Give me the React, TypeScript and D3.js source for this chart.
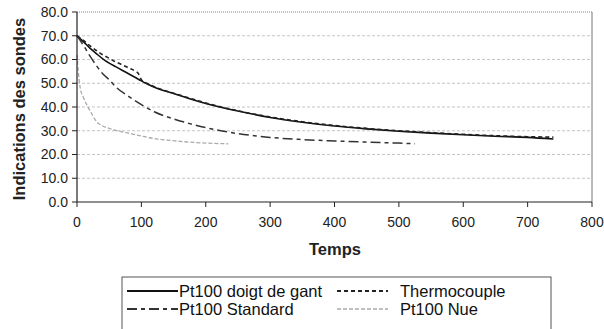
import * as d3 from 'd3';

// temps (s) and readings per probe
const gantT = [0, 10, 20, 30, 40, 50, 60, 70, 80, 90, 100, 110, 125, 150, 175, 200, 250, 300, 350, 400, 450, 500, 550, 600, 650, 700, 740];
const gantV = [70, 67.5, 64.8, 62.5, 60.3, 58.5, 57, 55.5, 54, 52.5, 51, 49.6, 47.8, 45.7, 43.5, 41.5, 38.3, 35.6, 33.6, 32, 30.8, 29.8, 29, 28.3, 27.7, 27.2, 26.5];

const thermoT = [0, 10, 20, 30, 40, 50, 60, 70, 80, 90, 95, 100, 110, 125, 150, 175, 200, 250, 300, 350, 400, 450, 500, 550, 600, 650, 700, 740];
const thermoV = [70, 68, 65.8, 63.8, 62, 60.5, 59, 57.8, 56.5, 55.2, 54.2, 51.5, 49.8, 48, 45.8, 43.7, 41.7, 38.4, 35.8, 33.8, 32.2, 31, 30, 29.2, 28.5, 27.9, 27.5, 27.3];

const standardT = [0, 10, 20, 30, 40, 50, 60, 80, 100, 120, 150, 175, 200, 250, 300, 350, 400, 450, 500, 525];
const standardV = [70, 66, 61.5, 57.5, 54, 51.5, 48.5, 44.5, 41, 38, 35, 33, 31.3, 28.8, 27.2, 26.3, 25.7, 25.2, 24.8, 24.5];

const nueT = [0, 2, 5, 10, 15, 20, 30, 40, 50, 60, 80, 100, 125, 150, 175, 200, 235];
const nueV = [62, 55, 48, 44, 41, 38.5, 34, 32, 31, 30.2, 29, 27.8, 26.5, 25.8, 25.2, 24.8, 24.5];

const xTicks = [0, 100, 200, 300, 400, 500, 600, 700, 800];
const yTicks = [0, 10, 20, 30, 40, 50, 60, 70, 80];

const series = [
  { name: 'Pt100 doigt de gant', t: gantT, v: gantV, color: '#111', dash: '', width: 1.6 },
  { name: 'Thermocouple', t: thermoT, v: thermoV, color: '#222', dash: '4 3', width: 1.6 },
  { name: 'Pt100 Standard', t: standardT, v: standardV, color: '#333', dash: '10 4 4 4', width: 1.5 },
  { name: 'Pt100 Nue', t: nueT, v: nueV, color: '#aaa', dash: '4 2', width: 1.3 },
];

const W = 604;
const H = 329;
const margin = { top: 12, right: 12, bottom: 127, left: 77 };
const font = 'Liberation Sans, Arial, sans-serif';

export default function App() {
  const x = d3.scaleLinear().domain([0, 800]).range([margin.left, W - margin.right]);
  const y = d3.scaleLinear().domain([0, 80]).range([H - margin.bottom, margin.top]);

  const line = d3.line<[number, number]>()
    .x((d) => x(d[0]))
    .y((d) => y(d[1]))
    .curve(d3.curveMonotoneX);

  const x0 = x(0);
  const x1 = x(800);
  const yBottom = y(0);

  return (
    <svg width={W} height={H} style={{ position: 'absolute', left: 0, top: 0, background: '#fff' }}>
      {/* Grid lines */}
      {yTicks.filter((t) => t > 0 && t < 80).map((t) => (
        <line key={t} x1={x0} x2={x1} y1={y(t)} y2={y(t)} stroke="#c4c4c4" strokeDasharray="3 2" />
      ))}
      <line x1={x0} x2={x1} y1={y(80)} y2={y(80)} stroke="#888" strokeDasharray="1 1" />
      <line x1={x1} x2={x1} y1={y(80)} y2={yBottom} stroke="#777" />

      {/* Series */}
      {series.map((s) => (
        <path
          key={s.name}
          d={line(s.t.map((t, i) => [t, s.v[i]] as [number, number])) || ''}
          fill="none"
          stroke={s.color}
          strokeWidth={s.width}
          strokeDasharray={s.dash || undefined}
        />
      ))}

      {/* Axes */}
      <line x1={x0} x2={x0} y1={y(80)} y2={yBottom} stroke="#222" strokeWidth={1.2} />
      <line x1={x0} x2={x1} y1={yBottom} y2={yBottom} stroke="#222" strokeWidth={1.2} />
      {yTicks.map((t) => (
        <g key={t}>
          <line x1={x0 - 5} x2={x0} y1={y(t)} y2={y(t)} stroke="#222" />
          <text x={x0 - 9} y={y(t)} dy="0.35em" textAnchor="end" fontFamily={font} fontSize={14} fill="#222">
            {t.toFixed(1)}
          </text>
        </g>
      ))}
      {xTicks.map((t) => (
        <g key={t}>
          <line x1={x(t)} x2={x(t)} y1={yBottom} y2={yBottom + 5} stroke="#222" />
          <text x={x(t)} y={yBottom + 25} textAnchor="middle" fontFamily={font} fontSize={14} fill="#222">
            {t}
          </text>
        </g>
      ))}

      {/* Axis titles */}
      <text x={335} y={255} textAnchor="middle" fontFamily={font} fontSize={16.5} fontWeight="bold" fill="#222">
        Temps
      </text>
      <text
        transform={`translate(25,${(y(80) + yBottom) / 2 + 2}) rotate(-90)`}
        textAnchor="middle"
        fontFamily={font}
        fontSize={16.5}
        fontWeight="bold"
        fill="#222"
      >
        Indications des sondes
      </text>

      {/* Legend */}
      <rect x={122} y={277} width={429} height={70} fill="#fff" stroke="#555" />
      {series.map((s, i) => {
        const col = i % 2;
        const row = Math.floor(i / 2);
        const lx = col === 0 ? 127 : 337;
        const ly = 291 + row * 18;
        return (
          <g key={s.name}>
            <line x1={lx} x2={lx + 51} y1={ly} y2={ly} stroke={s.color} strokeWidth={s.width + 0.4} strokeDasharray={s.dash || undefined} />
            <text x={col === 0 ? 179 : 400} y={ly} dy="0.35em" fontFamily={font} fontSize={16.5} fill="#111">
              {s.name}
            </text>
          </g>
        );
      })}
    </svg>
  );
}
